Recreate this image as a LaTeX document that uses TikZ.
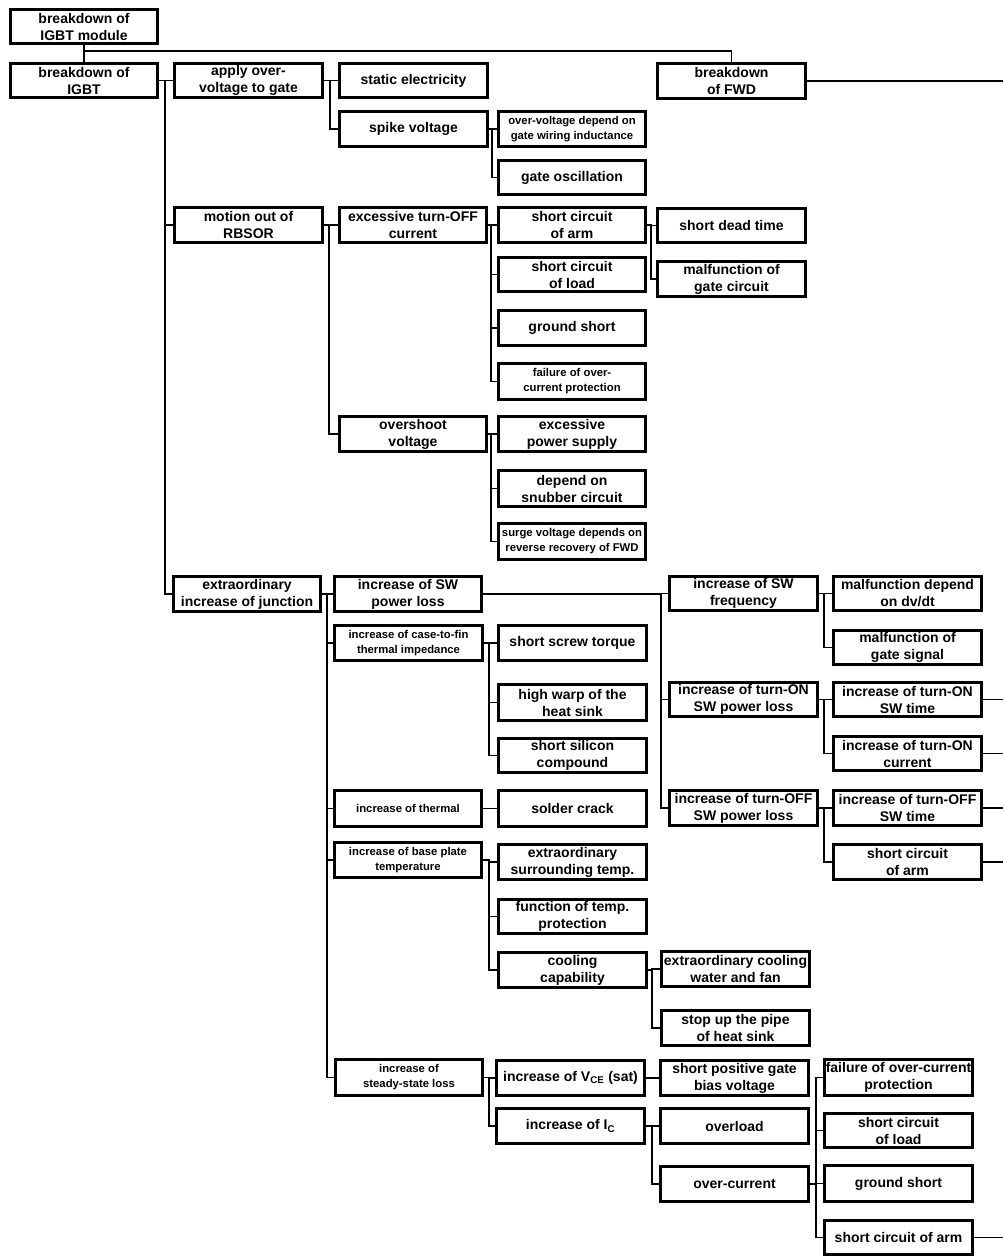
\documentclass[tikz,border=0pt]{standalone}
\usepackage{fontspec}
\setmainfont{Liberation Sans}
\tikzset{
  box/.style={draw, rectangle, line width=2.6pt, inner sep=0pt, outer sep=0pt, align=center},
  big/.style={font=\fontsize{14}{17}\selectfont\bfseries},
  small/.style={font=\fontsize{11.3}{15}\selectfont\bfseries},
  conn/.style={line width=1.8pt}
}
% #1 style, #2 name, #3 x1, #4 y1, #5 x2, #6 y2, #7 text
\newcommand\B[7][big]{\node[box,#1,minimum width={#5-#3-2.6},minimum height={#6-#4-2.6}] (#2) at ({(#3+#5)/2},{(#4+#6)/2}) {#7};}
% parent, offset of bus, children
\newcommand\conn[3]{\foreach \ch in {#3} {\draw[conn] (#1.east) -- ++(#2,0) |- (\ch.west);}}
\begin{document}
\begin{tikzpicture}[x=1pt,y=-1pt]
\useasboundingbox (0,0) rectangle (1003,1257);
\fill[white] (0,0) rectangle (1003,1257);
% boxes
\B{top}{9}{8}{159}{45}{breakdown of\\IGBT module}
\B{igbt}{9}{62}{159}{99}{breakdown of\\IGBT}
\B{apply}{173}{62}{324}{99}{apply over-\\voltage to gate}
\B{static}{338}{62}{489}{99}{static electricity}
\B{spike}{338}{110}{489}{148}{spike voltage}
\B[small]{ovdep}{497}{110}{647}{148}{over-voltage depend on\\gate wiring inductance}
\B{gateosc}{497}{159}{647}{196}{gate oscillation}
\B{fwd}{656}{62}{807}{100}{breakdown\\of FWD}
\B{motion}{173}{206}{324}{244}{motion out of\\RBSOR}
\B{exoff}{338}{206}{488}{244}{excessive turn-OFF\\current}
\B{arma}{497}{206}{647}{244}{short circuit\\of arm}
\B{dead}{656}{207}{807}{244}{short dead time}
\B{malgc}{656}{260}{807}{298}{malfunction of\\gate circuit}
\B{loada}{497}{256}{647}{293}{short circuit\\of load}
\B{gnda}{497}{309}{647}{347}{ground short}
\B[small]{foca}{497}{362}{647}{401}{failure of over-\\current protection}
\B{oversh}{338}{415}{488}{453}{overshoot\\voltage}
\B{exps}{497}{415}{647}{453}{excessive\\power supply}
\B{snub}{497}{469}{647}{508}{depend on\\snubber circuit}
\B[small]{surge}{497}{522}{647}{561}{surge voltage depends on\\reverse recovery of FWD}
\B{junc}{172}{575}{322}{613}{extraordinary\\increase of junction}
\B{swloss}{333}{575}{483}{613}{increase of SW\\power loss}
\B[small]{casefin}{333}{624}{484}{662}{increase of case-to-fin\\thermal impedance}
\B{screw}{497}{624}{648}{662}{short screw torque}
\B{warp}{497}{683}{648}{722}{high warp of the\\heat sink}
\B{silicon}{497}{737}{648}{774}{short silicon\\compound}
\B[small]{thermal}{333}{789}{483}{828}{increase of thermal}
\B{solder}{497}{789}{648}{828}{solder crack}
\B[small]{base}{333}{841}{483}{879}{increase of base plate\\temperature}
\B{surr}{497}{843}{648}{881}{extraordinary\\surrounding temp.}
\B{ftemp}{497}{898}{648}{935}{function of temp.\\protection}
\B{cool}{497}{951}{648}{989}{cooling\\capability}
\B{exfan}{660}{950}{811}{988}{extraordinary cooling\\water and fan}
\B{pipe}{660}{1009}{811}{1047}{stop up the pipe\\of heat sink}
\B[small]{steady}{334}{1058}{484}{1097}{increase of\\steady-state loss}
\B{vce}{495}{1059}{646}{1097}{increase of V\textsubscript{CE} (sat)}
\B{bias}{659}{1059}{810}{1097}{short positive gate\\bias voltage}
\B{ic}{495}{1107}{646}{1145}{increase of I\textsubscript{C}}
\B{overload}{659}{1107}{810}{1145}{overload}
\B{overcur}{659}{1165}{810}{1203}{over-current}
\B{focb}{823}{1058}{974}{1097}{failure of over-current\\protection}
\B{loadb}{823}{1112}{974}{1149}{short circuit\\of load}
\B{gndb}{823}{1164}{974}{1203}{ground short}
\B{armc}{823}{1219}{974}{1256}{short circuit of arm}
\B{swfreq}{668}{575}{819}{612}{increase of SW\\frequency}
\B{dvdt}{832}{575}{983}{612}{malfunction depend\\on dv/dt}
\B{gsig}{832}{629}{983}{666}{malfunction of\\gate signal}
\B{onloss}{668}{681}{819}{718}{increase of turn-ON\\SW power loss}
\B{ontime}{832}{681}{983}{718}{increase of turn-ON\\SW time}
\B{oncur}{832}{735}{983}{772}{increase of turn-ON\\current}
\B{offloss}{668}{789}{819}{827}{increase of turn-OFF\\SW power loss}
\B{offtime}{832}{789}{983}{827}{increase of turn-OFF\\SW time}
\B{armb}{832}{843}{983}{881}{short circuit\\of arm}
% right edge for free ends
\coordinate (redge) at (1003,0);
% connectors
\draw[conn] (top.south) -- (igbt.north);
\draw[conn] (top.south) ++(0,7) -| (fwd.north);
\draw[conn] (fwd.east) -- (fwd.east -| redge);
\conn{igbt}{7}{apply,motion,junc}
\conn{apply}{7}{static,spike}
\conn{spike}{4}{ovdep,gateosc}
\conn{motion}{6}{exoff,oversh}
\conn{exoff}{4}{arma,loada,gnda,foca}
\conn{arma}{5}{dead,malgc}
\conn{oversh}{4}{exps,snub,surge}
\conn{junc}{6}{swloss,casefin,thermal,base,steady}
\conn{swloss}{179}{swfreq,onloss,offloss}
\conn{casefin}{6}{screw,warp,silicon}
\draw[conn] (thermal.east) -- (solder.west);
\conn{base}{7}{surr,ftemp,cool}
\conn{cool}{5}{exfan,pipe}
\conn{steady}{6}{vce,ic}
\draw[conn] (vce.east) -- (bias.west);
\conn{ic}{7}{overload,overcur}
\conn{overcur}{7}{focb,loadb,gndb,armc}
\conn{swfreq}{6}{dvdt,gsig}
\conn{onloss}{6}{ontime,oncur}
\conn{offloss}{6}{offtime,armb}
\draw[conn] (ontime.east) -- (ontime.east -| redge);
\draw[conn] (oncur.east) -- (oncur.east -| redge);
\draw[conn] (offtime.east) -- (offtime.east -| redge);
\draw[conn] (armb.east) -- (armb.east -| redge);
\draw[conn] (armc.east) -- (armc.east -| redge);
\end{tikzpicture}
\end{document}
